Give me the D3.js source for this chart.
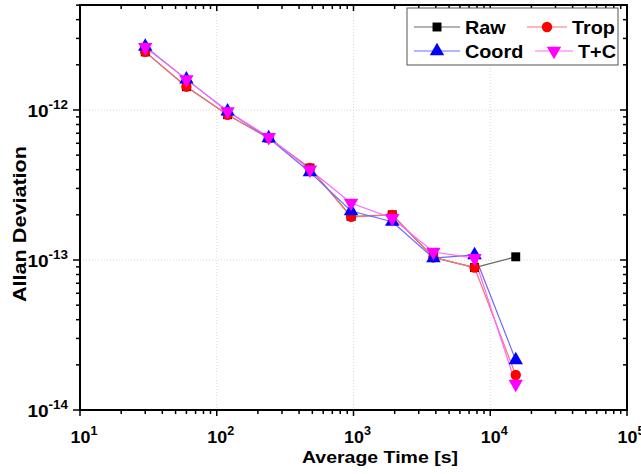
<!DOCTYPE html>
<html><head><meta charset="utf-8">
<script src="https://cdn.jsdelivr.net/npm/d3@7"></script>
<style>body{margin:0;background:#fff}svg{display:block;font-family:"Liberation Sans",Arial,sans-serif;font-weight:bold}</style>
</head><body><svg id="c" width="641" height="474"></svg>
<script>
const tau = [30, 60, 120, 240, 480, 960, 1920, 3840, 7680, 15360];
const raw   = [2.44e-12, 1.43e-12, 9.3e-13, 6.5e-13, 4.1e-13, 1.95e-13, 2.0e-13, 1.04e-13, 8.9e-14, 1.05e-13];
const trop  = [2.44e-12, 1.43e-12, 9.3e-13, 6.5e-13, 4.1e-13, 1.94e-13, 2.0e-13, 1.04e-13, 8.9e-14, 1.71e-14];
const coord = [2.65e-12, 1.6e-12, 9.8e-13, 6.5e-13, 3.85e-13, 2.12e-13, 1.8e-13, 1.03e-13, 1.08e-13, 2.15e-14];
const tc    = [2.62e-12, 1.6e-12, 9.8e-13, 6.6e-13, 4.0e-13, 2.4e-13, 1.9e-13, 1.13e-13, 1.03e-13, 1.49e-14];
const seriesNames = ["Raw", "Trop", "Coord", "T+C"];
const xTickExp = [1, 2, 3, 4, 5];
const yTickExp = [-14, -13, -12];

const svg = d3.select("#c");
const L = 80, R = 627, T = 5, B = 410;
const x = d3.scaleLog().domain([10, 1e5]).range([L, R]);
const y = d3.scaleLog().domain([1e-14, 5.01e-12]).range([B, T]);

// grid
const g = svg.append("g");
[100, 1000, 10000].forEach(v => g.append("line").attr("x1", x(v)).attr("x2", x(v)).attr("y1", T).attr("y2", B)
  .attr("stroke", "#d8d8d8").attr("stroke-dasharray", "1,2").attr("stroke-width", 1));
[1e-13, 1e-12].forEach(v => g.append("line").attr("x1", L).attr("x2", R).attr("y1", y(v)).attr("y2", y(v))
  .attr("stroke", "#d8d8d8").attr("stroke-dasharray", "1,2").attr("stroke-width", 1));

// ticks
const xMinor = [], xMajor = [];
for (let e = 1; e <= 5; e++) { xMajor.push(Math.pow(10, e)); if (e < 5) for (let k = 2; k <= 9; k++) xMinor.push(k * Math.pow(10, e)); }
const yMinor = [], yMajor = [];
for (let e = -14; e <= -12; e++) { yMajor.push(Math.pow(10, e)); for (let k = 2; k <= 9; k++) { const v = k * Math.pow(10, e); if (v <= 5.01e-12) yMinor.push(v); } }

const tk = svg.append("g").attr("stroke", "#000").attr("stroke-width", 1.5);
xMajor.forEach(v => { tk.append("line").attr("x1", x(v)).attr("x2", x(v)).attr("y1", B).attr("y2", B + 6);
  tk.append("line").attr("x1", x(v)).attr("x2", x(v)).attr("y1", T).attr("y2", T + 6); });
xMinor.forEach(v => { tk.append("line").attr("x1", x(v)).attr("x2", x(v)).attr("y1", B).attr("y2", B + 4);
  tk.append("line").attr("x1", x(v)).attr("x2", x(v)).attr("y1", T).attr("y2", T + 4); });
yMajor.forEach(v => { tk.append("line").attr("x1", L - 7).attr("x2", L).attr("y1", y(v)).attr("y2", y(v));
  tk.append("line").attr("x1", R - 7).attr("x2", R).attr("y1", y(v)).attr("y2", y(v)); });
yMinor.forEach(v => { tk.append("line").attr("x1", L - 4).attr("x2", L).attr("y1", y(v)).attr("y2", y(v));
  tk.append("line").attr("x1", R - 4).attr("x2", R).attr("y1", y(v)).attr("y2", y(v)); });

// frame
svg.append("rect").attr("x", L).attr("y", T).attr("width", R - L).attr("height", B - T)
  .attr("fill", "none").attr("stroke", "#000").attr("stroke-width", 2);

function powLabel(px, py, anchor, sx, e) {
  const t = svg.append("g").attr("transform", `translate(${px},${py}) scale(${sx},1)`)
    .append("text").attr("text-anchor", anchor).attr("font-size", 17);
  t.append("tspan").text("10");
  t.append("tspan").attr("font-size", 12).attr("dy", -8).text(e);
}
// tick labels
xTickExp.forEach(e => powLabel(x(Math.pow(10, e)) + 4, 443, "middle", 1.05, e));
yTickExp.forEach(e => powLabel(68, y(Math.pow(10, e)) + 7, "end", 1.12, e));

// axis titles
svg.append("text").attr("x", 380).attr("y", 463).attr("text-anchor", "middle").attr("font-size", 17)
  .attr("textLength", 156).attr("lengthAdjust", "spacingAndGlyphs").text("Average Time [s]");
svg.append("text").attr("transform", "translate(26,224) rotate(-90)").attr("text-anchor", "middle").attr("font-size", 18)
  .attr("textLength", 156).attr("lengthAdjust", "spacingAndGlyphs").text("Allan Deviation");

// series
const lineCol = ["#666", "#ff7070", "#6a6aff", "#ff66ff"];
const markCol = ["#000", "#ff0000", "#0000ff", "#ff00ff"];
const dataSets = [raw, trop, coord, tc];
const shapes = [d3.symbolSquare, d3.symbolCircle, d3.symbolTriangle, d3.symbolTriangle];
const sizes = [80, 85, 90, 90];
const rot = [0, 0, 0, 180];
const line = d3.line().x(d => x(d[0])).y(d => y(d[1]));
const plot = svg.append("g");
dataSets.forEach((ds, i) => {
  plot.append("path").datum(tau.map((t, j) => [t, ds[j]])).attr("d", line)
    .attr("fill", "none").attr("stroke", lineCol[i]).attr("stroke-width", 1.2);
});
dataSets.forEach((ds, i) => {
  plot.selectAll(null).data(tau.map((t, j) => [t, ds[j]])).enter().append("path")
    .attr("d", d3.symbol().type(shapes[i]).size(sizes[i]))
    .attr("transform", d => `translate(${x(d[0])},${y(d[1])}) rotate(${rot[i]})`)
    .attr("fill", markCol[i]);
});

// legend
const lg = svg.append("g");
lg.append("rect").attr("x", 407).attr("y", 8).attr("width", 211).attr("height", 57)
  .attr("fill", "#fff").attr("stroke", "#555").attr("stroke-width", 1);
const lpos = [[414, 460, 27, 465], [527, 567, 27, 572], [414, 460, 51, 465], [535, 573, 51, 578]];
seriesNames.forEach((n, i) => {
  const [a, b, yy, tx] = lpos[i];
  lg.append("line").attr("x1", a).attr("x2", b).attr("y1", yy).attr("y2", yy).attr("stroke", lineCol[i]).attr("stroke-width", 1.2);
  lg.append("path").attr("d", d3.symbol().type(shapes[i]).size(sizes[i]))
    .attr("transform", `translate(${(a + b) / 2},${yy}) rotate(${rot[i]})`).attr("fill", markCol[i]);
  lg.append("g").attr("transform", `translate(${tx},${yy + 6.5}) scale(1.1,1)`)
    .append("text").attr("font-size", 18).text(n);
});
</script></body></html>
